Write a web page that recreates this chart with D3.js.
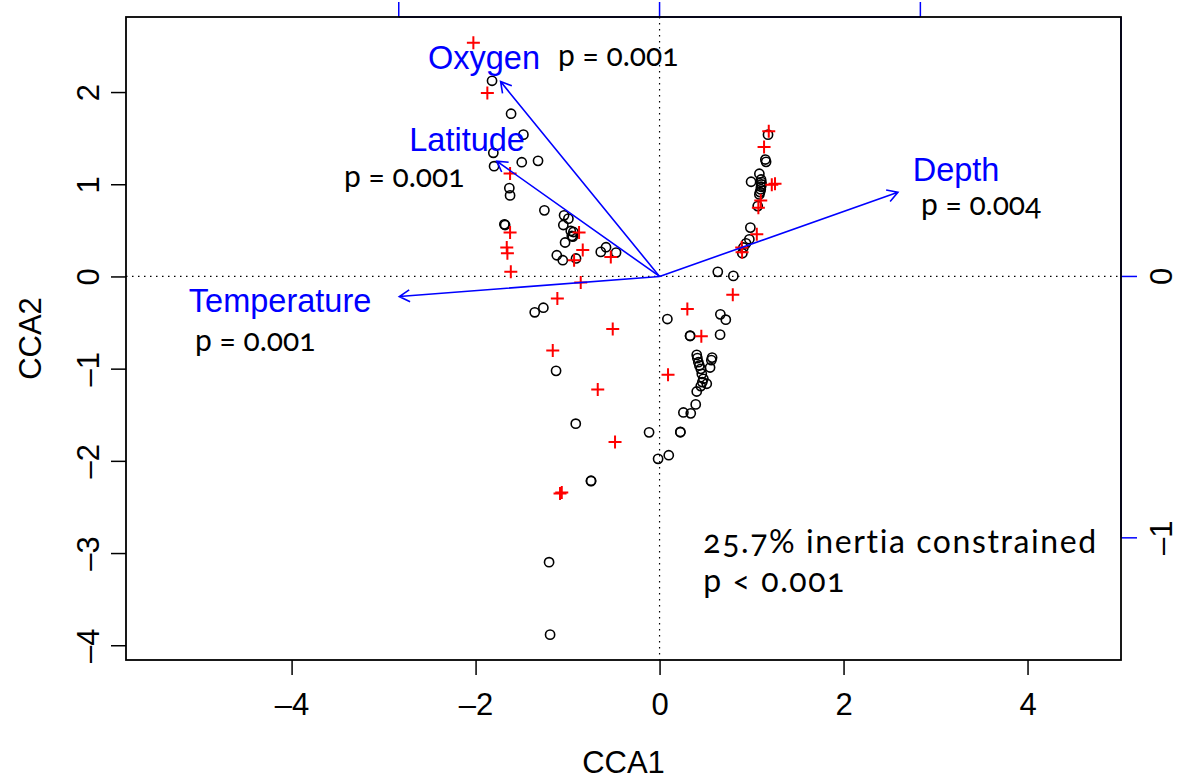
<!DOCTYPE html>
<html>
<head>
<meta charset="utf-8">
<script src="https://cdn.jsdelivr.net/npm/d3@7"></script>
<style>
	body { margin: 0; background: #fff; }
	svg { display: block; }
	.tick-label { font-family: 'Liberation Sans', Arial, sans-serif; font-size: 31px; fill: #000; }
	.var-label { font-family: 'Liberation Sans', Arial, sans-serif; font-size: 32.5px; fill: #0000ff; }
	.note { font-family: Lato, 'Open Sans', sans-serif; font-size: 30px; fill: #000; font-variant-numeric: oldstyle-nums; }
	.note.big { font-size: 32px; letter-spacing: 1.6px; }
</style>
</head>
<body>
<div class="chart"></div>
<script>
const WIDTH = 1178
const HEIGHT = 781

// site scores (circles)
const siteX = [-1.821, -1.614, -1.480, -1.807, -1.799, -1.498, -1.321, -1.633, -1.625, -1.252,
	-1.038, -0.991, -1.046, -1.687, -1.679, -0.965, -0.937, -0.954, -0.943, -1.027,
	-1.117, -1.052, -0.908, -0.639, -0.582, -0.473, -1.357, -1.263, 0.085,
	1.179, 1.150, 1.158, 1.085, 0.995, 1.103, 1.107, 1.107, 1.103, 1.100, 1.092, 1.085,
	1.067, 0.987, 0.976, 0.940, 0.911, 0.900, 0.633, 0.802,
	0.661, 0.720, 0.332, 0.332, 0.658, 0.404, 0.411, 0.422, 0.433, 0.448, 0.459, 0.476, 0.465,
	0.571, 0.563, 0.549, 0.513, 0.448, 0.404, 0.393, 0.259, 0.339, 0.226, 0.226,
	-0.114, -0.016, 0.100, -1.125, -0.911, -0.745, -0.745, -1.201, -1.190]
const siteY = [2.122, 1.765, 1.538, 1.341, 1.196, 1.239, 1.254, 0.958, 0.879, 0.717,
	0.663, 0.627, 0.558, 0.565, 0.558, 0.493, 0.482, 0.439, 0.432, 0.368,
	0.230, 0.176, 0.195, 0.266, 0.317, 0.259, -0.389, -0.339, -0.462,
	1.538, 1.268, 1.243, 1.114, 1.027, 1.052, 1.023, 0.998, 0.973, 0.944, 0.915, 0.890,
	0.763, 0.530, 0.403, 0.359, 0.314, 0.252, 0.050, 0.006,
	-0.411, -0.469, -0.642, -0.646, -0.631, -0.851, -0.886, -0.930, -0.966, -1.002, -1.056, -1.110, -1.146,
	-0.880, -0.908, -0.988, -1.164, -1.189, -1.248, -1.388, -1.475, -1.485, -1.686, -1.690,
	-1.691, -1.978, -1.939, -1.024, -1.597, -2.216, -2.220, -3.099, -3.885]

// species scores (red crosses)
const speciesX = [-2.024, -1.872, -1.625, -0.875, -1.625, -1.661, -1.654, -0.835, -0.929, -0.530,
	-1.617, -0.857, -1.111, 1.187, 1.136, 1.220, 1.255, 1.100, 1.074, 1.057, 0.893, 0.897,
	-0.509, -1.161, -0.672, -0.484, 0.302, 0.796, 0.454, 0.092, -1.063, -1.082]
const speciesY = [2.536, 1.989, 1.117, 0.476, 0.476, 0.314, 0.252, 0.288, 0.176, 0.212,
	0.050, -0.065, -0.238, 1.574, 1.405, 0.995, 1.005, 0.825, 0.746, 0.457, 0.314, 0.263,
	-0.570, -0.804, -1.226, -1.795, -0.354, -0.199, -0.649, -1.067, -2.343, -2.354]

// environmental biplot arrows
const envVars = ['Oxygen', 'Latitude', 'Temperature', 'Depth']
const envX = [-0.6095, -0.6245, -0.998, 0.914]
const envY = [0.7454, 0.4412, -0.077, 0.322]
const envP = ['p = 0.001', 'p = 0.001', 'p = 0.001', 'p = 0.004']

const xTicks = [-4, -2, 0, 2, 4]
const yTicks = [-4, -3, -2, -1, 0, 1, 2]
const bpTopTicks = [-1, 0, 1]
const bpRightTicks = [-1, 0]
const summaryLines = ['25.7% inertia constrained', 'p < 0.001']

// arrow multiplier used by the biplot
const MUL = 2.835

// label placement, in CCA1/CCA2 units (centre x / baseline y for names, left x / baseline for p)
const nameAt = [[-1.908, 2.252], [-2.092, 1.365], [-4.125, -0.386], [3.223, 1.030]]
const pAt = [[-1.103, 2.284], [-3.429, 0.965], [-5.049, -0.808], [2.842, 0.670]]
const summaryAt = [0.475, -3.0]

const box = { left: 126, right: 1121, top: 17, bottom: 660 }

const x = d3.scaleLinear().domain([-5.80, 5.016]).range([box.left, box.right])
const y = d3.scaleLinear().domain([2.814, -4.16]).range([box.top, box.bottom])
const xBi = d3.scaleLinear().domain(x.domain().map(d => d / MUL)).range(x.range())
const yBi = d3.scaleLinear().domain(y.domain().map(d => d / MUL)).range(y.range())

const minus = d => d < 0 ? '\u2013' + Math.abs(d) : d

const svg = d3.select('.chart').append('svg')
	.attr('width', WIDTH)
	.attr('height', HEIGHT)

// dotted zero lines
svg.append('line')
	.attr('x1', box.left).attr('x2', box.right)
	.attr('y1', y(0)).attr('y2', y(0))
	.attr('stroke', '#000').attr('stroke-width', 1.2).attr('stroke-dasharray', '1.5,4.5')
svg.append('line')
	.attr('x1', x(0)).attr('x2', x(0))
	.attr('y1', box.top).attr('y2', box.bottom)
	.attr('stroke', '#000').attr('stroke-width', 1.2).attr('stroke-dasharray', '1.5,4.5')

// bottom axis
const gx = svg.append('g')
	.attr('transform', `translate(0, ${box.bottom})`)
	.call(d3.axisBottom(x).tickValues(xTicks).tickSize(15).tickFormat(minus))
gx.select('.domain').remove()
gx.selectAll('.tick line').attr('stroke', '#000').attr('stroke-width', 1.5)
gx.selectAll('.tick text').attr('class', 'tick-label').attr('y', 55).attr('dy', null)

// left axis, labels parallel to axis
const gy = svg.append('g')
	.attr('transform', `translate(${box.left}, 0)`)
	.call(d3.axisLeft(y).tickValues(yTicks).tickSize(15).tickFormat(minus))
gy.select('.domain').remove()
gy.selectAll('.tick line').attr('stroke', '#000').attr('stroke-width', 1.5)
gy.selectAll('.tick text')
	.attr('class', 'tick-label')
	.attr('x', null).attr('dy', null)
	.attr('text-anchor', 'middle')
	.attr('transform', 'translate(-27, 0) rotate(-90)')

// top axis (biplot scale), blue
const gTop = svg.append('g').attr('transform', `translate(0, ${box.top})`)
gTop.append('line')
	.attr('x1', xBi(-1)).attr('x2', xBi(1))
	.attr('stroke', '#0000ff').attr('stroke-width', 1.5)
gTop.selectAll('.bt').data(bpTopTicks).join('line')
	.attr('class', 'bt')
	.attr('x1', d => xBi(d)).attr('x2', d => xBi(d))
	.attr('y1', 0).attr('y2', -15)
	.attr('stroke', '#0000ff').attr('stroke-width', 1.5)

// right axis (biplot scale), blue
const gRight = svg.append('g').attr('transform', `translate(${box.right}, 0)`)
gRight.append('line')
	.attr('y1', box.top).attr('y2', yBi(-1))
	.attr('stroke', '#0000ff').attr('stroke-width', 1.5)
gRight.selectAll('.rt').data(bpRightTicks).join('line')
	.attr('class', 'rt')
	.attr('y1', d => yBi(d)).attr('y2', d => yBi(d))
	.attr('x1', 0).attr('x2', 16)
	.attr('stroke', '#0000ff').attr('stroke-width', 1.5)
gRight.selectAll('.rl').data(bpRightTicks).join('text')
	.attr('class', 'tick-label')
	.attr('text-anchor', 'middle')
	.attr('transform', d => `translate(51, ${yBi(d)}) rotate(-90)`)
	.text(minus)

// frame
svg.append('rect')
	.attr('x', box.left).attr('y', box.top)
	.attr('width', box.right - box.left).attr('height', box.bottom - box.top)
	.attr('fill', 'none').attr('stroke', '#000').attr('stroke-width', 1.8)

// axis titles
svg.append('text')
	.attr('class', 'tick-label')
	.attr('text-anchor', 'middle')
	.attr('x', (box.left + box.right) / 2).attr('y', 773)
	.text('CCA1')
svg.append('text')
	.attr('class', 'tick-label')
	.attr('text-anchor', 'middle')
	.attr('transform', `translate(41, ${(box.top + box.bottom) / 2}) rotate(-90)`)
	.text('CCA2')

// sites
const sites = siteX.map((d, i) => ({ x: d, y: siteY[i] }))
svg.append('g').selectAll('circle').data(sites).join('circle')
	.attr('cx', d => x(d.x)).attr('cy', d => y(d.y))
	.attr('r', 4.6)
	.attr('fill', 'none').attr('stroke', '#000').attr('stroke-width', 1.6)

// species
const species = speciesX.map((d, i) => ({ x: d, y: speciesY[i] }))
const S = 6.5
svg.append('g').selectAll('path').data(species).join('path')
	.attr('d', d => `M${x(d.x) - S},${y(d.y)}H${x(d.x) + S}M${x(d.x)},${y(d.y) - S}V${y(d.y) + S}`)
	.attr('stroke', '#ff0000').attr('stroke-width', 2).attr('fill', 'none')

// biplot arrows
const env = envVars.map((d, i) => ({ name: d, x: envX[i], y: envY[i], p: envP[i], i }))
const HEAD = 12
const arrows = svg.append('g')
	.attr('stroke', '#0000ff').attr('stroke-width', 1.6).attr('fill', 'none')
env.forEach(d => {
	const x0 = x(0), y0 = y(0)
	const x1 = xBi(d.x), y1 = yBi(d.y)
	const a = Math.atan2(y1 - y0, x1 - x0)
	const h = [a + Math.PI * 5 / 6, a - Math.PI * 5 / 6]
	arrows.append('path')
		.attr('d', `M${x0},${y0}L${x1},${y1}` +
			`M${x1 + HEAD * Math.cos(h[0])},${y1 + HEAD * Math.sin(h[0])}L${x1},${y1}` +
			`L${x1 + HEAD * Math.cos(h[1])},${y1 + HEAD * Math.sin(h[1])}`)
})

svg.append('g').selectAll('text').data(env).join('text')
	.attr('class', 'var-label')
	.attr('text-anchor', 'middle')
	.attr('x', d => x(nameAt[d.i][0])).attr('y', d => y(nameAt[d.i][1]))
	.text(d => d.name)

svg.append('g').selectAll('text').data(env).join('text')
	.attr('class', 'note')
	.attr('x', d => x(pAt[d.i][0])).attr('y', d => y(pAt[d.i][1]))
	.text(d => d.p)

svg.append('g').selectAll('text').data(summaryLines).join('text')
	.attr('class', 'note big')
	.attr('x', x(summaryAt[0]))
	.attr('y', (d, i) => y(summaryAt[1]) + i * 39)
	.text(d => d)
</script>
</body>
</html>
